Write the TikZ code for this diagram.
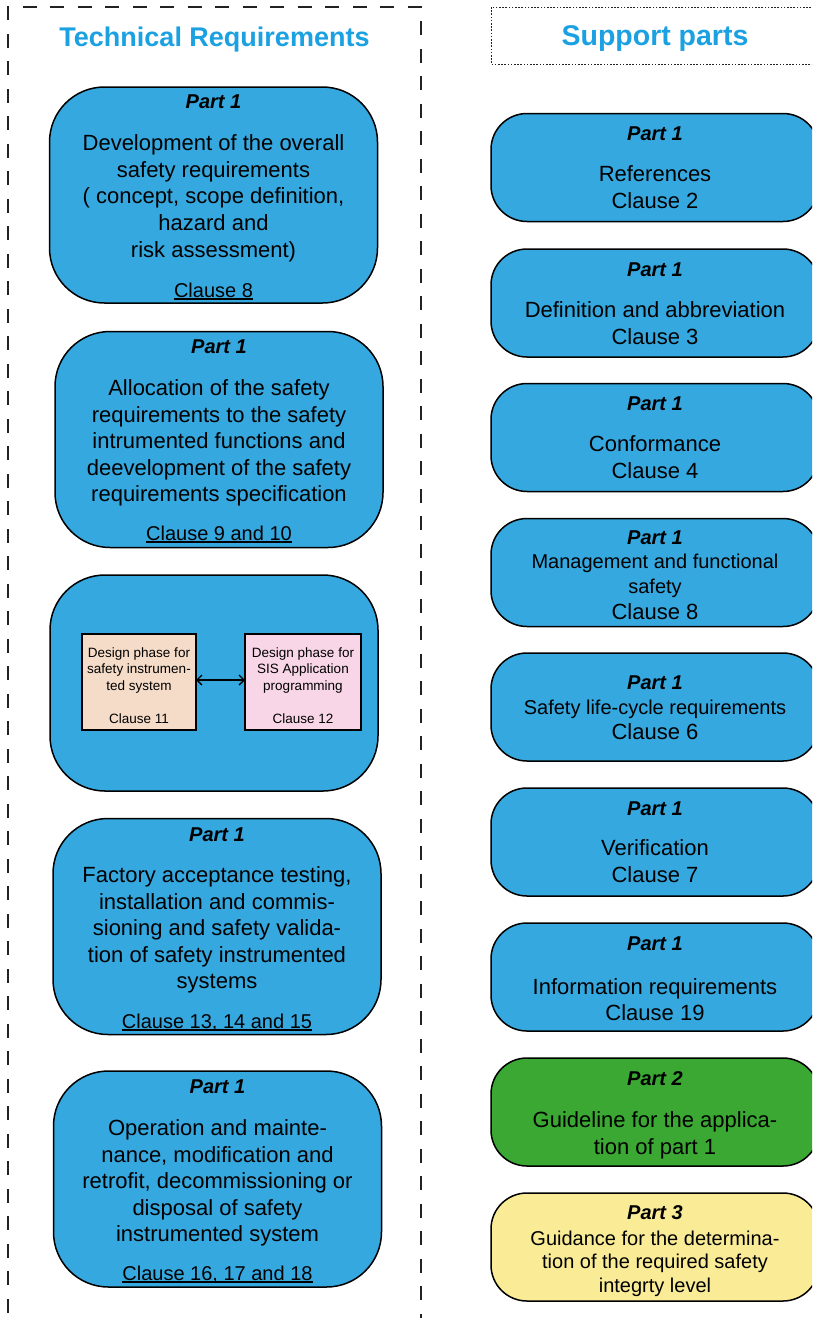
\documentclass[tikz,border=0pt]{standalone}
\usepackage{fontspec}
\setmainfont{Liberation Sans}
\usetikzlibrary{arrows.meta}

\definecolor{boxblue}{RGB}{54,168,224}
\definecolor{titleblue}{RGB}{27,161,226}
\definecolor{partgreen}{RGB}{58,168,50}
\definecolor{partyellow}{RGB}{250,236,150}
\definecolor{peach}{RGB}{245,220,200}
\definecolor{pink}{RGB}{248,214,232}
\definecolor{framegray}{RGB}{34,34,34}

\tikzset{
  bigbox/.style={draw=black, line width=1.5pt, fill=boxblue, rounded corners=55pt,
    minimum width=328pt, minimum height=216pt, inner sep=0pt, outer sep=0pt},
  smallbox/.style={draw=black, line width=1.5pt, fill=boxblue, rounded corners=36pt,
    minimum width=328pt, minimum height=108pt, inner sep=0pt, outer sep=0pt},
  phasebox/.style={draw=black, line width=1.4pt, minimum height=96pt,
    inner sep=0pt, outer sep=0pt},
  title/.style={font=\fontsize{27}{32}\selectfont\bfseries, text=titleblue, anchor=base, inner sep=0pt},
  part/.style={font=\fontsize{20}{24}\selectfont\bfseries\itshape, anchor=base, inner sep=0pt},
  body/.style={font=\fontsize{22}{26}\selectfont, anchor=base, inner sep=0pt},
  bodys/.style={font=\fontsize{20}{24}\selectfont, anchor=base, inner sep=0pt},
  clause/.style={font=\fontsize{20}{24}\selectfont, anchor=base, inner sep=0pt},
  tiny/.style={font=\fontsize{13.5}{16}\selectfont, anchor=base, inner sep=0pt},
  uline/.style={line width=1.3pt, black},
  frame/.style={draw=framegray, line width=1.6pt, dash pattern=on 14pt off 13.5pt},
  dotframe/.style={draw=framegray, line width=0.9pt, dash pattern=on 1.6pt off 1.6pt},
}

\begin{document}
\begin{tikzpicture}[x=1pt, y=-1pt]
\clip (0,0) rectangle (812,1318);
\fill[white] (0,0) rectangle (812,1318);

% ---------- frames and headings ----------
\draw[frame] (8,1340) -- (8,7) -- (421,7) -- (421,1340);
\draw[dotframe] (491,7) rectangle (850,64);
\node[title] (ttech) at (214.5,46) {Technical Requirements};
\node[title, font=\fontsize{28.5}{33}\selectfont\bfseries] (tsupp) at (655,45) {Support parts};

% ---------- technical requirements column ----------
\node[bigbox] (t1) at (213.5,195) {};
\node[part]  (t1p) at (213.5,108) {Part 1};
\node[body]  (t1a) at (213.5,150.5) {Development of the overall};
\node[body]  (t1b) at (213.5,177.2) {safety requirements};
\node[body]  (t1c) at (213.5,203.9) {( concept, scope definition,};
\node[body]  (t1d) at (213.5,230.6) {hazard and};
\node[body]  (t1e) at (213.5,257.3) {risk assessment)};
\node[clause] (t1k) at (213.5,297) {Clause 8};

\node[bigbox] (t2) at (219,439.5) {};
\node[part]  (t2p) at (219,353) {Part 1};
\node[body]  (t2a) at (219,395.5) {Allocation of the safety};
\node[body]  (t2b) at (219,422) {requirements to the safety};
\node[body]  (t2c) at (219,448.5) {intrumented functions and};
\node[body]  (t2d) at (219,475) {deevelopment of the safety};
\node[body]  (t2e) at (219,501.5) {requirements specification};
\node[clause] (t2k) at (219,540) {Clause 9 and 10};

\node[bigbox] (t3) at (214,683) {};
\node[phasebox, fill=peach, minimum width=114pt] (d11) at (139,682) {};
\node[phasebox, fill=pink, minimum width=116pt] (d12) at (303,682) {};
\node[tiny] (d11a) at (139,657) {Design phase for};
\node[tiny] (d11b) at (139,673.5) {safety instrumen-};
\node[tiny] (d11c) at (139,690) {ted system};
\node[tiny] (d11k) at (139,723) {Clause 11};
\node[tiny] (d12a) at (303,657) {Design phase for};
\node[tiny] (d12b) at (303,673.5) {SIS Application};
\node[tiny] (d12c) at (303,690) {programming};
\node[tiny] (d12k) at (303,723) {Clause 12};
\draw[line width=1.3pt, {Straight Barb[length=5pt,width=10pt]}-{Straight Barb[length=5pt,width=10pt]}]
  ([yshift=2pt]d11.east) -- ([yshift=2pt]d12.west);

\node[bigbox] (t4) at (217,926.5) {};
\node[part]  (t4p) at (217,841) {Part 1};
\node[body]  (t4a) at (217,882.5) {Factory acceptance testing,};
\node[body]  (t4b) at (217,909) {installation and commis-};
\node[body]  (t4c) at (217,935.5) {sioning and safety valida-};
\node[body]  (t4d) at (217,962) {tion of safety instrumented};
\node[body]  (t4e) at (217,988.5) {systems};
\node[clause] (t4k) at (217,1028) {Clause 13, 14 and 15};

\node[bigbox] (t5) at (217.5,1179) {};
\node[part]  (t5p) at (217.5,1093) {Part 1};
\node[body]  (t5a) at (217.5,1135.5) {Operation and mainte-};
\node[body]  (t5b) at (217.5,1162) {nance, modification and};
\node[body]  (t5c) at (217.5,1188.5) {retrofit, decommissioning or};
\node[body]  (t5d) at (217.5,1215) {disposal of safety};
\node[body]  (t5e) at (217.5,1241.5) {instrumented system};
\node[clause] (t5k) at (217.5,1280) {Clause 16, 17 and 18};

\foreach \n in {t1k,t2k,t4k,t5k}
  \draw[uline] ([yshift=-2pt]\n.base west) -- ([yshift=-2pt]\n.base east);

% ---------- support parts column ----------
\node[smallbox] (s1) at (655,167.5) {};
\node[part] (s1p) at (655,140) {Part 1};
\node[body] (s1a) at (655,181.5) {References};
\node[body] (s1k) at (655,208.5) {Clause 2};

\node[smallbox] (s2) at (655,303) {};
\node[part] (s2p) at (655,276) {Part 1};
\node[body] (s2a) at (655,317.5) {Definition and abbreviation};
\node[body] (s2k) at (655,344.5) {Clause 3};

\node[smallbox] (s3) at (655,437.5) {};
\node[part] (s3p) at (655,410) {Part 1};
\node[body] (s3a) at (655,451.5) {Conformance};
\node[body] (s3k) at (655,478.5) {Clause 4};

\node[smallbox] (s4) at (655,572.5) {};
\node[part]  (s4p) at (655,544) {Part 1};
\node[bodys] (s4a) at (655,568) {Management and functional};
\node[bodys] (s4b) at (655,593) {safety};
\node[body]  (s4k) at (655,619.5) {Clause 8};

\node[smallbox] (s5) at (655,707) {};
\node[part]  (s5p) at (655,689) {Part 1};
\node[bodys] (s5a) at (655,714) {Safety life-cycle requirements};
\node[body]  (s5k) at (655,739.5) {Clause 6};

\node[smallbox] (s6) at (655,842) {};
\node[part] (s6p) at (655,815) {Part 1};
\node[body] (s6a) at (655,855.5) {Verification};
\node[body] (s6k) at (655,882.5) {Clause 7};

\node[smallbox] (s7) at (655,977) {};
\node[part] (s7p) at (655,950) {Part 1};
\node[body] (s7a) at (655,994.5) {Information requirements};
\node[body] (s7k) at (655,1020.5) {Clause 19};

\node[smallbox, fill=partgreen] (s8) at (655,1112) {};
\node[part] (s8p) at (655,1085) {Part 2};
\node[body] (s8a) at (655,1127.5) {Guideline for the applica-};
\node[body] (s8b) at (655,1154.5) {tion of part 1};

\node[smallbox, fill=partyellow] (s9) at (655,1247) {};
\node[part]  (s9p) at (655,1219) {Part 3};
\node[bodys] (s9a) at (655,1245) {Guidance for the determina-};
\node[bodys] (s9b) at (655,1268.5) {tion of the required safety};
\node[bodys] (s9c) at (655,1292) {integrty level};
\end{tikzpicture}
\end{document}
